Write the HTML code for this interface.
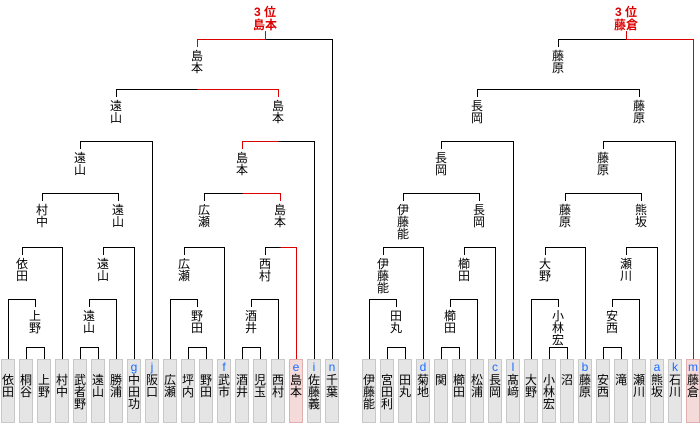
<!DOCTYPE html>
<html><head><meta charset="utf-8"><style>
html,body{margin:0;padding:0;background:#fff;}
svg{display:block;}
text{font-family:"Liberation Sans","Noto Sans CJK JP",sans-serif;font-size:12px;text-anchor:middle;fill:#000;}
.r{fill:#d00;font-weight:bold;}
.b{fill:#1a6cff;}
.k{stroke:#000;stroke-width:1;fill:none;}
.rd{stroke:#d00;stroke-width:1;fill:none;}
.c{fill:#e5e5e5;stroke:#c8c8c8;}
.p{fill:#f5dada;stroke:#e0b0b0;}
</style></head><body>
<svg width="700" height="424" viewBox="0 0 700 424" shape-rendering="crispEdges">
<!-- LEFT cells -->
<g>
<rect class="c" x="1.5" y="359.5" width="13" height="63"/>
<rect class="c" x="19.5" y="359.5" width="13" height="63"/>
<rect class="c" x="37.5" y="359.5" width="13" height="63"/>
<rect class="c" x="55.5" y="359.5" width="13" height="63"/>
<rect class="c" x="73.5" y="359.5" width="13" height="63"/>
<rect class="c" x="91.5" y="359.5" width="13" height="63"/>
<rect class="c" x="109.5" y="359.5" width="13" height="63"/>
<rect class="c" x="127.5" y="359.5" width="13" height="63"/>
<rect class="c" x="145.5" y="359.5" width="13" height="63"/>
<rect class="c" x="163.5" y="359.5" width="13" height="63"/>
<rect class="c" x="181.5" y="359.5" width="13" height="63"/>
<rect class="c" x="199.5" y="359.5" width="13" height="63"/>
<rect class="c" x="217.5" y="359.5" width="13" height="63"/>
<rect class="c" x="235.5" y="359.5" width="13" height="63"/>
<rect class="c" x="253.5" y="359.5" width="13" height="63"/>
<rect class="c" x="271.5" y="359.5" width="13" height="63"/>
<rect class="p" x="289.5" y="359.5" width="13" height="63"/>
<rect class="c" x="307.5" y="359.5" width="13" height="63"/>
<rect class="c" x="325.5" y="359.5" width="13" height="63"/>
</g>
<!-- RIGHT cells -->
<g>
<rect class="c" x="362.5" y="359.5" width="13" height="63"/>
<rect class="c" x="380.5" y="359.5" width="13" height="63"/>
<rect class="c" x="398.5" y="359.5" width="13" height="63"/>
<rect class="c" x="416.5" y="359.5" width="13" height="63"/>
<rect class="c" x="434.5" y="359.5" width="13" height="63"/>
<rect class="c" x="452.5" y="359.5" width="13" height="63"/>
<rect class="c" x="470.5" y="359.5" width="13" height="63"/>
<rect class="c" x="488.5" y="359.5" width="13" height="63"/>
<rect class="c" x="506.5" y="359.5" width="13" height="63"/>
<rect class="c" x="524.5" y="359.5" width="13" height="63"/>
<rect class="c" x="542.5" y="359.5" width="13" height="63"/>
<rect class="c" x="560.5" y="359.5" width="13" height="63"/>
<rect class="c" x="578.5" y="359.5" width="13" height="63"/>
<rect class="c" x="596.5" y="359.5" width="13" height="63"/>
<rect class="c" x="614.5" y="359.5" width="13" height="63"/>
<rect class="c" x="632.5" y="359.5" width="13" height="63"/>
<rect class="c" x="650.5" y="359.5" width="13" height="63"/>
<rect class="c" x="668.5" y="359.5" width="13" height="63"/>
<rect class="p" x="686.5" y="359.5" width="13" height="63"/>
</g>

<!-- LEFT lines -->
<path class="k" d="
M26.5 359V347.5H44.5V359
M8.5 359V299.5H35.5V307
M22.5 255V247.5H62.5V359
M80.5 359V347.5H98.5V359
M89.5 307V299.5H116.5V359
M103.5 255V247.5H134.5V359
M42.5 201V193.5H118.5V201
M80.5 149V141.5H152.5V359
M188.5 359V347.5H206.5V359
M170.5 359V299.5H197.5V307
M184.5 255V247.5H224.5V359
M242.5 359V347.5H260.5V359
M251.5 307V299.5H278.5V359
M265.5 255V247.5H280.5
M204.5 201V193.5H242.5
M278.5 141.5H314.5V359
M116.5 97V89.5H197.5
M265.5 39.5H332.5V359
"/>
<path class="rd" d="
M280.5 247.5H296.5V359
M242.5 193.5H280.5V201
M242.5 149V141.5H278.5
M197.5 89.5H278.5V97
M197.5 47V39.5H265.5
M265.5 31V39.5
"/>

<!-- RIGHT lines -->
<path class="k" d="
M387.5 359V347.5H405.5V359
M369.5 359V299.5H396.5V307
M383.5 255V247.5H423.5V359
M441.5 359V347.5H459.5V359
M450.5 307V299.5H477.5V359
M464.5 255V247.5H495.5V359
M403.5 201V193.5H479.5V201
M441.5 149V141.5H513.5V359
M549.5 359V347.5H567.5V359
M531.5 359V299.5H558.5V307
M545.5 255V247.5H585.5V359
M603.5 359V347.5H621.5V359
M612.5 307V299.5H639.5V359
M626.5 255V247.5H657.5V359
M565.5 201V193.5H641.5V201
M603.5 149V141.5H675.5V359
M477.5 97V89.5H639.5V97
M558.5 47V39.5H626.5
"/>
<path class="rd" d="M626.5 31V39.5H693.5V359"/>

<!-- LEFT internal labels -->
<g>
<text x="35" y="320">上</text><text x="35" y="332">野</text>
<text x="22" y="268">依</text><text x="22" y="280">田</text>
<text x="42" y="214">村</text><text x="42" y="226">中</text>
<text x="89" y="320">遠</text><text x="89" y="332">山</text>
<text x="103" y="268">遠</text><text x="103" y="280">山</text>
<text x="118" y="214">遠</text><text x="118" y="226">山</text>
<text x="80" y="162">遠</text><text x="80" y="174">山</text>
<text x="116" y="110">遠</text><text x="116" y="122">山</text>
<text x="197" y="320">野</text><text x="197" y="332">田</text>
<text x="184" y="268">広</text><text x="184" y="280">瀬</text>
<text x="204" y="214">広</text><text x="204" y="226">瀬</text>
<text x="251" y="320">酒</text><text x="251" y="332">井</text>
<text x="265" y="268">西</text><text x="265" y="280">村</text>
<text x="280" y="214">島</text><text x="280" y="226">本</text>
<text x="242" y="162">島</text><text x="242" y="174">本</text>
<text x="278" y="110">島</text><text x="278" y="122">本</text>
<text x="197" y="60">島</text><text x="197" y="72">本</text>
<text class="r" x="265" y="16">3 位</text><text class="r" x="265" y="29">島本</text>
</g>
<!-- RIGHT internal labels -->
<g>
<text x="396" y="320">田</text><text x="396" y="332">丸</text>
<text x="383" y="268">伊</text><text x="383" y="280">藤</text><text x="383" y="292">能</text>
<text x="403" y="214">伊</text><text x="403" y="226">藤</text><text x="403" y="238">能</text>
<text x="450" y="320">櫛</text><text x="450" y="332">田</text>
<text x="464" y="268">櫛</text><text x="464" y="280">田</text>
<text x="479" y="214">長</text><text x="479" y="226">岡</text>
<text x="441" y="162">長</text><text x="441" y="174">岡</text>
<text x="477" y="110">長</text><text x="477" y="122">岡</text>
<text x="558" y="320">小</text><text x="558" y="332">林</text><text x="558" y="344">宏</text>
<text x="545" y="268">大</text><text x="545" y="280">野</text>
<text x="565" y="214">藤</text><text x="565" y="226">原</text>
<text x="612" y="320">安</text><text x="612" y="332">西</text>
<text x="626" y="268">瀬</text><text x="626" y="280">川</text>
<text x="641" y="214">熊</text><text x="641" y="226">坂</text>
<text x="603" y="162">藤</text><text x="603" y="174">原</text>
<text x="639" y="110">藤</text><text x="639" y="122">原</text>
<text x="558" y="60">藤</text><text x="558" y="72">原</text>
<text class="r" x="626" y="16">3 位</text><text class="r" x="626" y="29">藤倉</text>
</g>

<!-- LEFT cell names -->
<g>
<text x="8" y="384">依</text><text x="8" y="396">田</text>
<text x="26" y="384">桐</text><text x="26" y="396">谷</text>
<text x="44" y="384">上</text><text x="44" y="396">野</text>
<text x="62" y="384">村</text><text x="62" y="396">中</text>
<text x="80" y="384">武</text><text x="80" y="396">者</text><text x="80" y="408">野</text>
<text x="98" y="384">遠</text><text x="98" y="396">山</text>
<text x="116" y="384">勝</text><text x="116" y="396">浦</text>
<text class="b" x="134" y="371">g</text><text x="134" y="384">中</text><text x="134" y="396">田</text><text x="134" y="408">功</text>
<text class="b" x="152" y="371">j</text><text x="152" y="384">阪</text><text x="152" y="396">口</text>
<text x="170" y="384">広</text><text x="170" y="396">瀬</text>
<text x="188" y="384">坪</text><text x="188" y="396">内</text>
<text x="206" y="384">野</text><text x="206" y="396">田</text>
<text class="b" x="224" y="371">f</text><text x="224" y="384">武</text><text x="224" y="396">市</text>
<text x="242" y="384">酒</text><text x="242" y="396">井</text>
<text x="260" y="384">児</text><text x="260" y="396">玉</text>
<text x="278" y="384">西</text><text x="278" y="396">村</text>
<text class="b" x="296" y="371">e</text><text x="296" y="384">島</text><text x="296" y="396">本</text>
<text class="b" x="314" y="371">i</text><text x="314" y="384">佐</text><text x="314" y="396">藤</text><text x="314" y="408">義</text>
<text class="b" x="332" y="371">n</text><text x="332" y="384">千</text><text x="332" y="396">葉</text>
</g>
<!-- RIGHT cell names -->
<g>
<text x="369" y="384">伊</text><text x="369" y="396">藤</text><text x="369" y="408">能</text>
<text x="387" y="384">宮</text><text x="387" y="396">田</text><text x="387" y="408">利</text>
<text x="405" y="384">田</text><text x="405" y="396">丸</text>
<text class="b" x="423" y="371">d</text><text x="423" y="384">菊</text><text x="423" y="396">地</text>
<text x="441" y="384">関</text>
<text x="459" y="384">櫛</text><text x="459" y="396">田</text>
<text x="477" y="384">松</text><text x="477" y="396">浦</text>
<text class="b" x="495" y="371">c</text><text x="495" y="384">長</text><text x="495" y="396">岡</text>
<text class="b" x="513" y="371">l</text><text x="513" y="384">髙</text><text x="513" y="396">﨑</text>
<text x="531" y="384">大</text><text x="531" y="396">野</text>
<text x="549" y="384">小</text><text x="549" y="396">林</text><text x="549" y="408">宏</text>
<text x="567" y="384">沼</text>
<text class="b" x="585" y="371">b</text><text x="585" y="384">藤</text><text x="585" y="396">原</text>
<text x="603" y="384">安</text><text x="603" y="396">西</text>
<text x="621" y="384">滝</text>
<text x="639" y="384">瀬</text><text x="639" y="396">川</text>
<text class="b" x="657" y="371">a</text><text x="657" y="384">熊</text><text x="657" y="396">坂</text>
<text class="b" x="675" y="371">k</text><text x="675" y="384">石</text><text x="675" y="396">川</text>
<text class="b" x="693" y="371">m</text><text x="693" y="384">藤</text><text x="693" y="396">倉</text>
</g>
</svg>
</body></html>
